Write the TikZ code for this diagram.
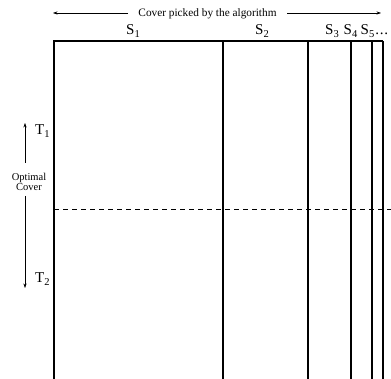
\documentclass[tikz,border=0pt]{standalone}
\usepackage{fontspec}
\setmainfont{Liberation Serif}
\usetikzlibrary{arrows.meta}
\begin{document}
\begin{tikzpicture}[x=1pt,y=-1pt,
  wall/.style={line width=1.1pt},
  lbl/.style={font=\fontsize{15}{17}\selectfont, inner sep=0pt, anchor=base west},
  small/.style={font=\fontsize{11.3}{13}\selectfont, inner sep=0pt, anchor=base},
  tiny/.style={font=\fontsize{10.5}{9.5}\selectfont, inner sep=0pt, align=center},
  arr/.style={-{Stealth[length=4.5pt,width=3.2pt]}, line width=0.5pt}]
\useasboundingbox (0,0) rectangle (391,379);
% top edge and verticals
\draw[wall] (54,379) -- (54,41) -- (383,41);
\foreach \x in {223,308,351,372,383}{\draw[wall] (\x,41) -- (\x,379);}
% dashed line
\draw[line width=0.8pt, dash pattern=on 5pt off 4pt] (54,209.5) -- (391,209.5);
% top arrow and text
\node[small] (cov) at (207.5,17) {Cover picked by the algorithm};
\coordinate (cl0) at (128,13);
\coordinate (ctl) at (53,13);
\coordinate (cr0) at (287,13);
\coordinate (ctr) at (381,13);
\draw[arr] (cl0) -- (ctl);
\draw[arr] (cr0) -- (ctr);
% set labels
\node[lbl] (s1) at (126,35) {S\textsubscript{1}};
\node[lbl] (s2) at (255,35) {S\textsubscript{2}};
\node[lbl] (s3) at (325,35) {S\textsubscript{3}};
\node[lbl] (s4) at (343.5,35) {S\textsubscript{4}};
\node[lbl] (s5) at (360.5,35) {S\textsubscript{5}\kern0.5pt.\kern0.8pt.\kern0.8pt.};
% left arrows
\node[tiny] (opt) at (29,182) {Optimal\\Cover};
\coordinate (u0) at (25,163);
\coordinate (tup) at (25,123);
\coordinate (d0) at (25,196);
\coordinate (tdn) at (25,288);
\draw[arr] (u0) -- (tup);
\draw[arr] (d0) -- (tdn);
\node[lbl] (t1) at (35,135) {T\textsubscript{1}};
\node[lbl] (t2) at (35,283) {T\textsubscript{2}};
\end{tikzpicture}
\end{document}
